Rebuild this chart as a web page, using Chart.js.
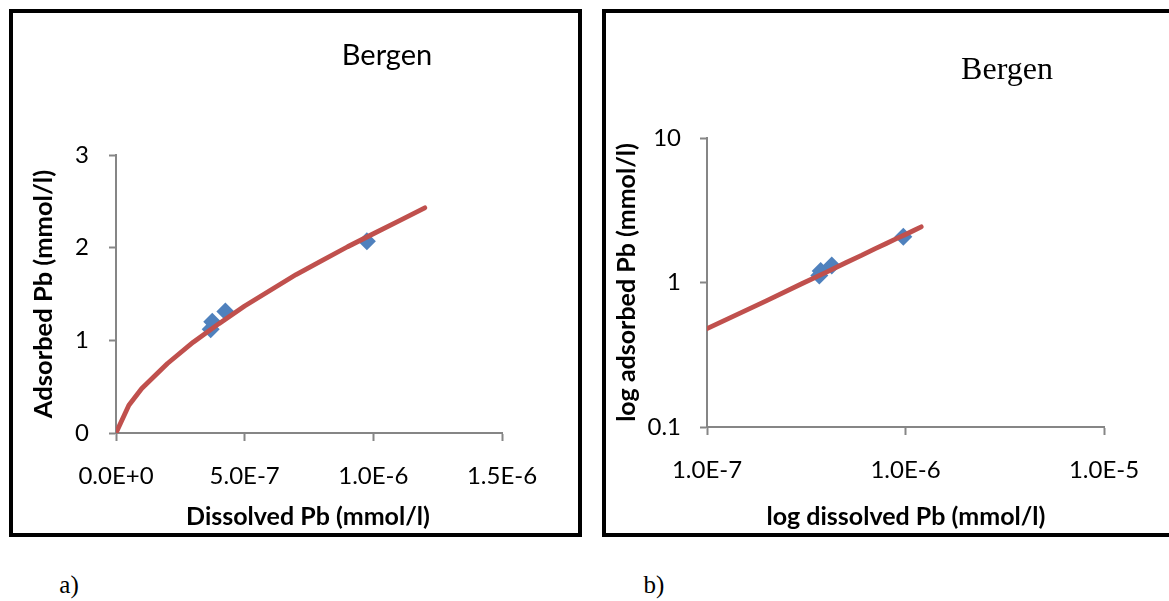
<!DOCTYPE html>
<html>
<head>
<meta charset="utf-8">
<script src="https://cdn.jsdelivr.net/npm/chart.js@4.4.1/dist/chart.umd.min.js"></script>
<style>
  body { margin: 0; background: #fff; width: 1169px; height: 601px; overflow: hidden; position: relative; font-family: Lato, sans-serif; }
  .box { position: absolute; border: 4px solid #000; background: #fff; }
  .box canvas { position: absolute; left: 0; top: 0; }
  .txt { position: absolute; white-space: nowrap; transform: translate(-50%, -50%); color: #000; }
  .sans-title { font: 29px Lato, sans-serif; }
  .serif-title { font: 32px "Liberation Serif", "Times New Roman", serif; }
  .xtitle { font: bold 25px Lato, sans-serif; }
  .panel { font: 25px "Liberation Serif", "Times New Roman", serif; }
</style>
</head>
<body>

<div class="box" style="left:9px; top:9px; width:565px; height:520px;">
  <canvas id="chartA" width="565" height="520"></canvas>
</div>
<div class="box" style="left:602px; top:9px; width:600px; height:520px;">
  <canvas id="chartB" width="563" height="520"></canvas>
</div>

<div class="txt sans-title" style="left:387px; top:53px;">Bergen</div>
<div class="txt serif-title" style="left:1007px; top:68px;">Bergen</div>
<div class="txt xtitle" style="left:308px; top:515px;">Dissolved Pb (mmol/l)</div>
<div class="txt xtitle" style="left:906px; top:515px;">log dissolved Pb (mmol/l)</div>
<div class="txt panel" style="left:69px; top:585px;">a)</div>
<div class="txt panel" style="left:654px; top:585px;">b)</div>

<script>
// valores medidos (puntos azules)
const measuredDissolved = [3.68e-7, 3.74e-7, 4.25e-7, 9.75e-7];
const measuredAdsorbed = [1.12, 1.20, 1.31, 2.07];

// curva ajustada (linea roja)
const fitDissolved = [0, 0.5e-7, 1e-7, 2e-7, 3e-7, 4e-7, 5e-7, 6e-7, 7e-7, 8e-7, 9e-7, 1e-6, 1.1e-6, 1.2e-6];
const fitAdsorbed = [0, 0.30, 0.48, 0.75, 0.98, 1.18, 1.37, 1.54, 1.71, 1.86, 2.01, 2.15, 2.29, 2.43];

// ticks panel a)
const xTicksA = [0, 5e-7, 1e-6, 1.5e-6];
const xTickLabelsA = ['0.0E+0', '5.0E-7', '1.0E-6', '1.5E-6'];
const yTicksA = [0, 1, 2, 3];
const yTickLabelsA = ['0', '1', '2', '3'];

// ticks panel b)
const xTicksB = [1e-7, 1e-6, 1e-5];
const xTickLabelsB = ['1.0E-7', '1.0E-6', '1.0E-5'];
const yTicksB = [0.1, 1, 10];
const yTickLabelsB = ['0.1', '1', '10'];

const AXIS_GRAY = '#868686';
const RED = '#C0504D';
const BLUE = '#4F81BD';

function toPoints(xs, ys) {
    return xs.map((x, i) => ({ x: x, y: ys[i] }));
}

function buildDatasets(onlyPositive) {
    let fit = toPoints(fitDissolved, fitAdsorbed);
    if (onlyPositive) fit = fit.filter(p => p.x > 0);
    return [
        {
            // la linea va primero para quedar encima de los rombos
            label: 'Ajuste',
            data: fit,
            showLine: true,
            borderColor: RED,
            backgroundColor: RED,
            borderWidth: 4.8,
            borderCapStyle: 'round',
            borderJoinStyle: 'round',
            pointRadius: 0,
            tension: 0
        },
        {
            label: 'Medido',
            data: toPoints(measuredDissolved, measuredAdsorbed),
            showLine: false,
            pointStyle: 'rectRot',
            pointRadius: 9,
            backgroundColor: BLUE,
            borderColor: BLUE,
            borderWidth: 0
        }
    ];
}

function axisStyle(tickLength) {
    return {
        grid: { display: true, drawOnChartArea: false, drawTicks: true, tickLength: tickLength, tickColor: AXIS_GRAY, tickWidth: 2 },
        border: { display: true, color: AXIS_GRAY, width: 2 }
    };
}

Chart.defaults.font.family = 'Lato, sans-serif';
Chart.defaults.color = '#000';

// --- panel a) escala lineal ---
new Chart(document.getElementById('chartA'), {
    type: 'scatter',
    data: { datasets: buildDatasets(false) },
    options: {
        responsive: false,
        animation: false,
        devicePixelRatio: 1,
        layout: { padding: { top: 142, right: 76, left: 0, bottom: 0 } },
        plugins: { legend: { display: false }, tooltip: { enabled: false } },
        scales: {
            x: {
                type: 'linear',
                min: 0,
                max: 1.5e-6,
                ...axisStyle(8),
                afterBuildTicks: scale => { scale.ticks = xTicksA.map(v => ({ value: v })); },
                afterFit: scale => { scale.height = 100; },
                ticks: {
                    padding: 21,
                    maxRotation: 0,
                    font: { size: 24 },
                    callback: (value, index) => xTickLabelsA[index]
                }
            },
            y: {
                type: 'linear',
                min: 0,
                max: 3,
                ...axisStyle(7),
                afterBuildTicks: scale => { scale.ticks = yTicksA.map(v => ({ value: v })); },
                afterFit: scale => { scale.width = 103; },
                ticks: {
                    padding: 20,
                    font: { size: 24 },
                    callback: (value, index) => yTickLabelsA[index]
                },
                title: {
                    display: true,
                    text: 'Adsorbed Pb (mmol/l)',
                    font: { size: 25.5, weight: 'bold', lineHeight: 1 },
                    padding: { top: 18, bottom: 0 }
                }
            }
        }
    }
});

// --- panel b) escala log-log ---
new Chart(document.getElementById('chartB'), {
    type: 'scatter',
    data: { datasets: buildDatasets(true) },
    options: {
        responsive: false,
        animation: false,
        devicePixelRatio: 1,
        layout: { padding: { top: 125, right: 65, left: 0, bottom: 0 } },
        plugins: { legend: { display: false }, tooltip: { enabled: false } },
        scales: {
            x: {
                type: 'logarithmic',
                min: 1e-7,
                max: 1e-5,
                ...axisStyle(8),
                afterBuildTicks: scale => { scale.ticks = xTicksB.map(v => ({ value: v })); },
                afterFit: scale => { scale.height = 106; },
                ticks: {
                    padding: 21,
                    maxRotation: 0,
                    font: { size: 24 },
                    callback: (value, index) => xTickLabelsB[index]
                }
            },
            y: {
                type: 'logarithmic',
                min: 0.1,
                max: 10,
                ...axisStyle(7),
                afterBuildTicks: scale => { scale.ticks = yTicksB.map(v => ({ value: v })); },
                afterFit: scale => { scale.width = 101; },
                ticks: {
                    padding: 19,
                    font: { size: 24 },
                    callback: (value, index) => yTickLabelsB[index]
                },
                title: {
                    display: true,
                    text: 'log adsorbed Pb (mmol/l)',
                    font: { size: 25, weight: 'bold', lineHeight: 1 },
                    padding: { top: 8, bottom: 0 }
                }
            }
        }
    }
});
</script>
</body>
</html>
